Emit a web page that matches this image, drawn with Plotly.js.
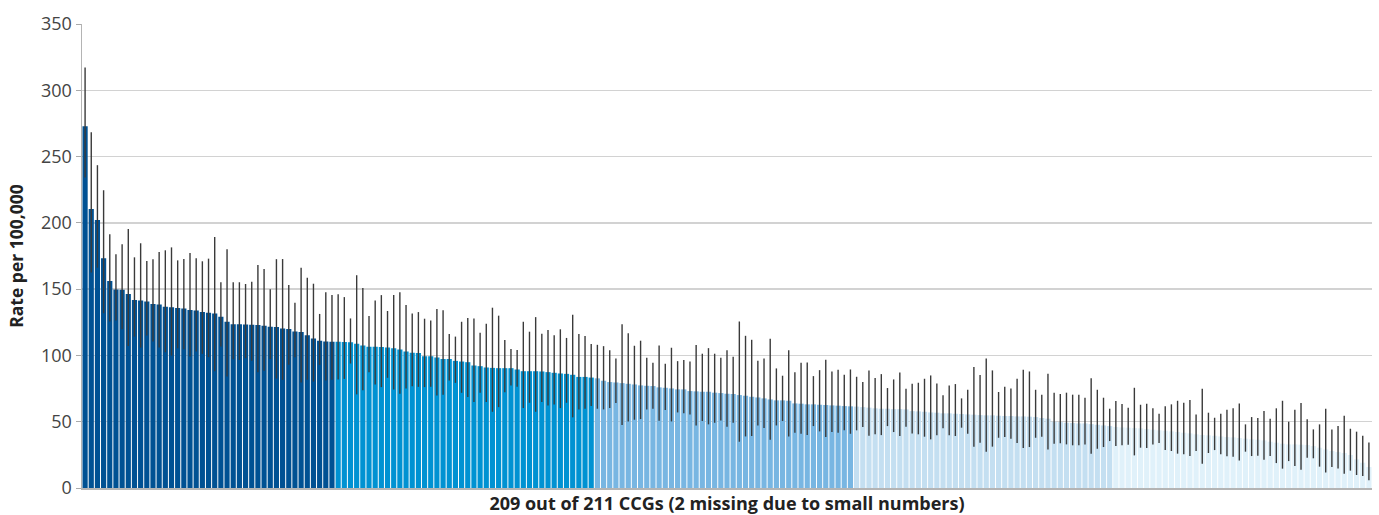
<!DOCTYPE html>
<html>
<head>
<meta charset="utf-8">
<script src="https://cdn.plot.ly/plotly-3.0.1.min.js"></script>
<style>
  html, body { margin: 0; padding: 0; background: #ffffff; }
  #chart { width: 1379px; height: 515px; }
</style>
</head>
<body>
<div id="chart"></div>
<script>
// Rate per 100,000 for each CCG, sorted descending (209 CCGs)
const rate = [
  272.9, 210.4, 202.1, 173.3, 156.2, 149.7, 149.5, 146.4, 141.9, 141.4, 140.7, 138.7, 138.4, 136.7, 136.4, 135.7, 135.4, 134.2, 133.9, 132.7, 132.1, 131.6, 129.1, 125.4, 123.6, 123.6, 123.4, 123.1, 122.9, 122.4, 121.6, 121.4, 120.4, 119.9, 118.1, 117.6, 115.3, 112.8, 111.1, 110.6, 110.3,
  110.4, 110.2, 109.9, 108.9, 107.4, 106.6, 106.6, 106.4, 105.9, 105.4, 104.4, 102.9, 102.1, 101.9, 99.4, 99.4, 98.4, 97.4, 97.4, 95.9, 95.4, 94.9, 92.4, 91.9, 90.9, 90.6, 90.4, 90.4, 90.4, 89.4, 88.1, 88.1, 88.1, 87.9, 87.4, 86.9, 86.4, 86.1, 85.4, 83.8, 83.8, 83.3,
  82.7, 80.9, 79.9, 79.6, 79.1, 78.6, 78.1, 77.4, 77.1, 76.9, 75.9, 75.6, 75.1, 74.4, 74.4, 73.1, 72.9, 72.6, 72.6, 71.9, 71.6, 71.1, 70.9, 70.1, 69.6, 68.8, 68.3, 67.6, 66.8, 66.1, 66.1, 65.8, 63.8, 63.6, 63.1, 63.1, 62.8, 62.6, 62.3, 62.1, 61.8, 61.6,
  61.4, 61.0, 60.6, 60.1, 59.8, 59.8, 59.5, 59.5, 59.3, 58.0, 57.8, 57.5, 57.0, 56.8, 56.3, 56.3, 56.0, 55.8, 55.5, 55.3, 55.0, 54.8, 54.8, 54.5, 54.3, 54.3, 54.0, 54.0, 53.8, 53.5, 52.8, 52.3, 50.0, 49.7, 49.2, 49.0, 48.7, 48.7, 48.2, 47.7, 47.2, 46.7,
  46.0, 45.7, 45.5, 45.2, 45.0, 44.5, 44.0, 43.5, 43.2, 42.7, 42.2, 41.7, 41.2, 40.5, 40.0, 39.7, 39.4, 38.9, 38.4, 38.2, 37.7, 37.2, 36.7, 36.4, 35.9, 34.9, 34.2, 33.4, 32.9, 32.9, 32.7, 32.4, 31.6, 30.4, 29.1, 27.9, 27.1, 26.4, 24.9, 21.6, 19.1, 15.8
];

// Upper 95% confidence limit
const ciUpper = [
  317.1, 268.3, 243.5, 224.6, 191.4, 176.3, 183.8, 195.3, 174.0, 184.6, 171.2, 172.5, 178.0, 179.3, 181.5, 171.7, 172.7, 177.2, 173.3, 171.0, 173.0, 189.3, 155.2, 180.0, 155.2, 155.2, 153.9, 155.6, 168.2, 165.2, 149.9, 172.6, 172.7, 153.1, 139.8, 166.2, 158.6, 154.1, 131.3, 147.6, 145.6,
  146.2, 144.0, 127.9, 160.5, 150.8, 129.7, 141.5, 145.5, 133.5, 145.5, 147.7, 138.0, 131.7, 132.7, 127.7, 126.4, 135.0, 134.0, 116.2, 114.2, 125.4, 128.2, 127.9, 117.2, 123.9, 136.0, 130.0, 111.7, 104.9, 104.1, 125.4, 117.9, 128.9, 116.4, 119.2, 115.2, 119.7, 113.2, 130.7, 116.2, 114.7, 108.7,
  108.0, 107.0, 104.0, 97.7, 123.6, 116.8, 107.3, 111.1, 98.2, 94.5, 107.5, 93.7, 105.8, 95.7, 96.5, 95.5, 107.8, 101.3, 105.5, 101.3, 98.2, 104.0, 99.0, 125.6, 114.8, 111.8, 96.0, 97.7, 112.6, 90.2, 84.7, 104.0, 87.4, 94.5, 94.7, 84.4, 88.9, 96.7, 87.9, 89.2, 85.4, 89.4,
  83.9, 79.9, 88.7, 82.9, 85.9, 75.4, 81.9, 87.2, 74.9, 78.6, 79.4, 82.4, 84.9, 78.9, 69.9, 77.4, 78.4, 67.6, 74.1, 91.2, 85.2, 97.7, 88.7, 72.4, 76.4, 75.1, 82.4, 89.2, 87.9, 74.1, 70.4, 86.2, 71.9, 70.9, 71.9, 70.4, 70.4, 68.1, 82.7, 74.1, 68.1, 59.8,
  65.6, 63.3, 60.6, 75.6, 62.8, 63.6, 60.1, 56.0, 61.6, 63.1, 65.8, 64.3, 66.3, 55.5, 74.9, 56.8, 53.0, 56.0, 59.0, 60.1, 63.8, 48.0, 53.5, 52.8, 58.0, 52.3, 60.1, 65.8, 50.0, 59.0, 64.1, 51.8, 44.2, 48.0, 59.8, 44.2, 46.7, 54.5, 44.7, 42.5, 39.4, 34.4
];

// Lower 95% confidence limit
const ciLower = [
  234.3, 162.6, 166.2, 131.8, 125.5, 126.3, 119.8, 107.2, 114.2, 105.9, 115.0, 110.5, 105.9, 102.4, 99.9, 105.4, 104.7, 99.1, 102.9, 101.2, 98.7, 88.1, 106.7, 84.1, 97.2, 96.6, 97.9, 95.9, 87.4, 88.4, 97.4, 82.6, 81.6, 92.9, 98.7, 79.5, 81.6, 80.3, 92.9, 81.0, 81.6,
  81.8, 82.3, 93.9, 70.6, 73.8, 87.3, 78.1, 76.1, 83.1, 74.3, 71.1, 75.1, 76.8, 76.3, 76.1, 76.3, 69.8, 70.3, 81.1, 79.3, 71.8, 68.6, 64.8, 71.8, 64.8, 57.5, 61.0, 72.3, 77.3, 76.3, 60.3, 64.3, 57.5, 64.8, 62.3, 63.0, 60.3, 64.3, 53.3, 59.3, 59.8, 61.8,
  59.8, 59.3, 60.3, 64.1, 47.5, 50.2, 51.5, 52.0, 59.3, 59.8, 50.7, 58.8, 50.2, 57.0, 56.3, 55.5, 47.2, 50.5, 48.0, 49.2, 51.0, 46.2, 49.2, 34.9, 38.9, 39.2, 47.2, 45.2, 36.4, 47.2, 50.5, 38.9, 41.7, 40.9, 39.9, 46.7, 42.7, 38.4, 42.2, 41.7, 43.5, 40.9,
  43.5, 46.0, 39.4, 40.5, 39.9, 46.7, 42.2, 39.2, 46.2, 41.2, 40.5, 38.7, 36.7, 39.7, 45.0, 39.7, 39.2, 45.5, 41.0, 31.2, 34.2, 27.4, 31.2, 37.9, 38.4, 37.2, 33.9, 30.1, 30.9, 37.9, 38.7, 29.1, 33.4, 33.7, 32.9, 32.2, 32.2, 32.9, 25.9, 29.6, 30.9, 35.4,
  31.7, 32.2, 32.7, 24.6, 30.4, 30.1, 32.9, 33.9, 28.6, 27.9, 25.9, 25.4, 24.1, 27.9, 18.3, 26.4, 28.6, 25.4, 23.9, 23.6, 20.8, 27.4, 24.1, 24.4, 21.4, 24.1, 18.8, 14.6, 20.3, 16.6, 13.8, 22.9, 22.4, 16.1, 11.6, 15.8, 14.8, 10.8, 13.1, 9.8, 9.0, 5.8
];

// Number of CCGs in each quintile (highest to lowest)
const quintileSizes = [41, 42, 42, 42, 42];

// Axis ticks
const yTicks = [0, 50, 100, 150, 200, 250, 300, 350];

const xTitle = "209 out of 211 CCGs (2 missing due to small numbers)";
const yTitle = "Rate per 100,000";

// ---- styling ----
const quintileColors = ["#005193", "#0092d2", "#78b6e2", "#c4dff1", "#e0f1fa"];

const categories = rate.map((_, i) => "CCG " + (i + 1));
const barColors = [];
quintileSizes.forEach((n, q) => { for (let k = 0; k < n; k++) barColors.push(quintileColors[q]); });

const trace = {
  type: "bar",
  x: categories,
  y: rate,
  marker: { color: barColors, line: { width: 0 } },
  error_y: {
    type: "data",
    symmetric: false,
    array: rate.map((v, i) => ciUpper[i] - v),
    arrayminus: rate.map((v, i) => v - ciLower[i]),
    color: "#3a3a3a",
    thickness: 1.4,
    width: 0
  },
  hoverinfo: "x+y"
};

const layout = {
  width: 1379,
  height: 515,
  margin: { l: 82, r: 7, t: 24, b: 27 },
  paper_bgcolor: "#ffffff",
  plot_bgcolor: "#ffffff",
  bargap: 0.16,
  showlegend: false,
  font: { family: "'Open Sans', 'Noto Sans', sans-serif", color: "#333333" },
  xaxis: {
    type: "category",
    showticklabels: false,
    ticks: "",
    showgrid: false,
    showline: true,
    linecolor: "#b4b4b4",
    linewidth: 2,
    range: [-0.5, rate.length - 0.5],
    fixedrange: true,
    automargin: false,
    title: {
      text: xTitle,
      font: { size: 18, color: "#222222", family: "'Open Sans', sans-serif", weight: "bold" },
      standoff: 11
    }
  },
  yaxis: {
    range: [0, 350],
    tickvals: yTicks,
    ticktext: yTicks.map(String),
    tickfont: { size: 18, color: "#444444" },
    ticks: "outside",
    ticklen: 5,
    tickcolor: "#aaaaaa",
    showgrid: true,
    gridcolor: "#d2d2d2",
    gridwidth: 1.5,
    zeroline: false,
    showline: true,
    linecolor: "#b4b4b4",
    linewidth: 1.5,
    fixedrange: true,
    automargin: false,
    title: {
      text: yTitle,
      font: { size: 17.5, color: "#222222", family: "'Open Sans', sans-serif", weight: "bold" },
      standoff: 13
    }
  }
};

Plotly.newPlot("chart", [trace], layout, { displayModeBar: false, staticPlot: true });
</script>
</body>
</html>
